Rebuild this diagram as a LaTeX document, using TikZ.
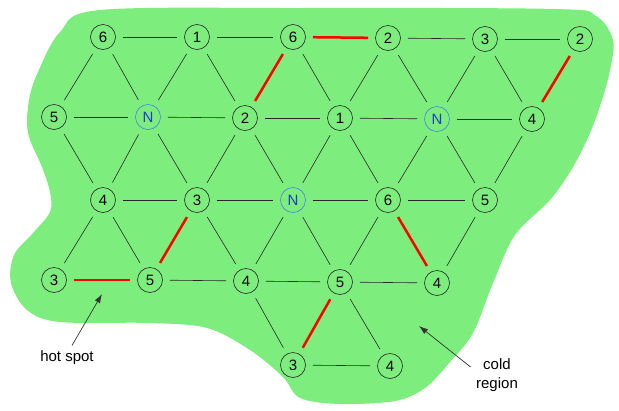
\documentclass[tikz,border=0pt]{standalone}
\usepackage{fontspec}
\setmainfont{Liberation Sans}
\usetikzlibrary{arrows.meta}
\definecolor{blob}{RGB}{125,238,125}
\definecolor{nblue}{RGB}{30,60,200}
\definecolor{nring}{RGB}{70,130,230}
\begin{document}
\begin{tikzpicture}[x=1pt,y=-1pt,
  vtx/.style={circle,draw=black!85,line width=0.6pt,minimum size=25pt,inner sep=0pt,font=\fontsize{15}{15}\selectfont},
  nvtx/.style={vtx,draw=nring,text=nblue},
  ed/.style={line width=0.6pt,black!85,shorten >=7pt,shorten <=7pt},
  hot/.style={ed,draw=red,line width=2.5pt},
  lab/.style={font=\fontsize{15}{19}\selectfont,align=center},
  pointer/.style={-{Latex[length=9pt,width=6pt]},line width=0.7pt,black!80}]
\useasboundingbox (0,0) rectangle (619,410);
\fill[blob] plot[smooth cycle,tension=0.55] coordinates {
  (100,10) (300,8) (555,9) (596,16) (613,40) (610,70) (602,100) (590,133)
  (573,167) (550,200) (515,235) (493,283) (473,333) (450,362) (425,388)
  (395,401) (340,404) (300,398) (283,377) (250,350) (207,328) (150,323)
  (60,322) (27,310) (11,283) (14,255) (33,233) (50,212) (50,192) (42,167)
  (28,133) (29,100) (38,72) (60,32)};
% row 1
\node[vtx] (a1) at (103,37) {6};
\node[vtx] (a2) at (197,37) {1};
\node[vtx] (a3) at (293,37) {6};
\node[vtx] (a4) at (388,38) {2};
\node[vtx] (a5) at (485,39) {3};
\node[vtx] (a6) at (580,39) {2};
% row 2
\node[vtx]  (b1) at (54,117) {5};
\node[nvtx] (b2) at (148,117) {N};
\node[vtx]  (b3) at (245,118) {2};
\node[vtx]  (b4) at (340,118) {1};
\node[nvtx] (b5) at (437,119) {N};
\node[vtx]  (b6) at (532,119) {4};
% row 3
\node[vtx]  (c1) at (103,200) {4};
\node[vtx]  (c2) at (197,200) {3};
\node[nvtx] (c3) at (293,200) {N};
\node[vtx]  (c4) at (388,200) {6};
\node[vtx]  (c5) at (485,200) {5};
% row 4
\node[vtx] (d1) at (54,280) {3};
\node[vtx] (d2) at (150,280) {5};
\node[vtx] (d3) at (246,281) {4};
\node[vtx] (d4) at (340,282) {5};
\node[vtx] (d5) at (437,283) {4};
% row 5
\node[vtx] (e1) at (293,365) {3};
\node[vtx] (e2) at (390,366) {4};
% horizontal edges
\draw[ed] (a1)--(a2); \draw[ed] (a2)--(a3); \draw[hot] (a3)--(a4);
\draw[ed] (a4)--(a5); \draw[ed] (a5)--(a6);
\draw[ed] (b1)--(b2); \draw[ed] (b2)--(b3); \draw[ed] (b3)--(b4);
\draw[ed] (b4)--(b5); \draw[ed] (b5)--(b6);
\draw[ed] (c1)--(c2); \draw[ed] (c2)--(c3); \draw[ed] (c3)--(c4); \draw[ed] (c4)--(c5);
\draw[hot] (d1)--(d2); \draw[ed] (d2)--(d3); \draw[ed] (d3)--(d4); \draw[ed] (d4)--(d5);
\draw[ed] (e1)--(e2);
% row 1 - row 2
\draw[ed] (a1)--(b1); \draw[ed] (a1)--(b2); \draw[ed] (a2)--(b2); \draw[ed] (a2)--(b3);
\draw[hot] (a3)--(b3); \draw[ed] (a3)--(b4); \draw[ed] (a4)--(b4); \draw[ed] (a4)--(b5);
\draw[ed] (a5)--(b5); \draw[ed] (a5)--(b6); \draw[hot] (a6)--(b6);
% row 2 - row 3
\draw[ed] (b1)--(c1); \draw[ed] (b2)--(c1); \draw[ed] (b2)--(c2); \draw[ed] (b3)--(c2);
\draw[ed] (b3)--(c3); \draw[ed] (b4)--(c3); \draw[ed] (b4)--(c4); \draw[ed] (b5)--(c4);
\draw[ed] (b5)--(c5); \draw[ed] (b6)--(c5);
% row 3 - row 4
\draw[ed] (c1)--(d1); \draw[ed] (c1)--(d2); \draw[hot] (c2)--(d2); \draw[ed] (c2)--(d3);
\draw[ed] (c3)--(d3); \draw[ed] (c3)--(d4); \draw[ed] (c4)--(d4); \draw[hot] (c4)--(d5);
\draw[ed] (c5)--(d5);
% row 4 - row 5
\draw[ed] (d3)--(e1); \draw[hot] (d4)--(e1); \draw[ed] (d4)--(e2);
% labels and pointers
\node[lab] (hotlbl) at (67,358) {hot spot};
\coordinate (hottip) at (102,294);
\draw[pointer] ([xshift=5pt,yshift=2pt]hotlbl.north) -- (hottip);
\node[lab] (coldlbl) at (497,375) {cold\\region};
\coordinate (coldtip) at (419,326);
\draw[pointer] ([xshift=-2pt,yshift=8pt]coldlbl.west) -- (coldtip);
\end{tikzpicture}
\end{document}
